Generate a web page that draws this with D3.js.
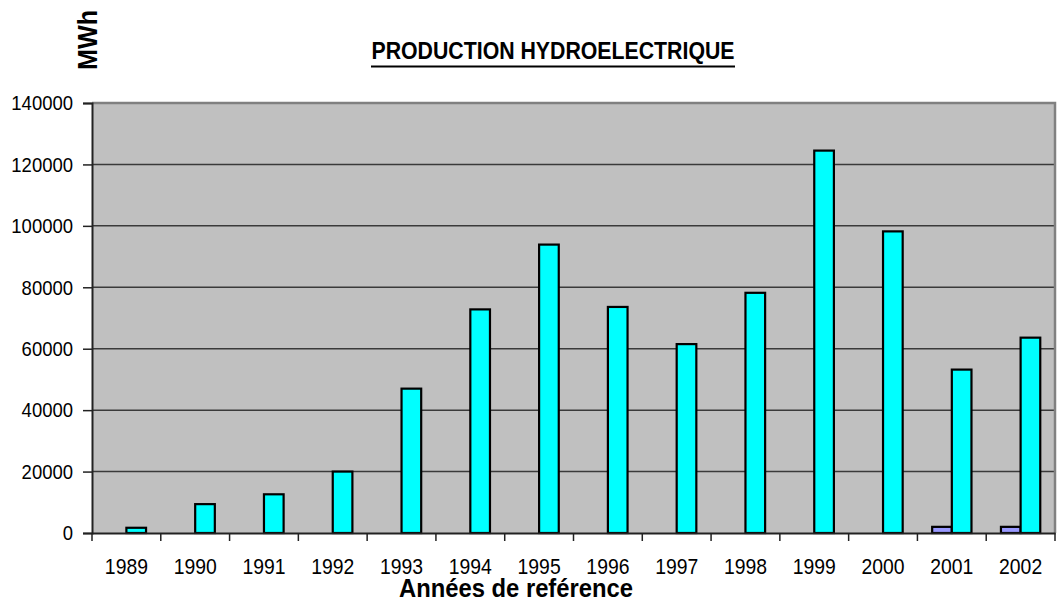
<!DOCTYPE html>
<html>
<head>
<meta charset="utf-8">
<script src="https://cdn.jsdelivr.net/npm/d3@7"></script>
<style>
  html, body { margin: 0; padding: 0; background: #fff; }
  svg { display: block; font-family: "Liberation Sans", Arial, sans-serif; }
</style>
</head>
<body>
<svg id="chart" width="1057" height="607"></svg>
<script>
const years = ["1989","1990","1991","1992","1993","1994","1995","1996","1997","1998","1999","2000","2001","2002"];
const seriesNames = ["Série 1", "Série 2"];
const series1 = [null,null,null,null,null,null,null,null,null,null,null,null,2000,2000];
const series2 = [1700,9400,12600,20000,47000,72800,93900,73600,61500,78200,124500,98200,53200,63600];
const yTicks = [0,20000,40000,60000,80000,100000,120000,140000];
const seriesColors = ["#9999FF", "#00FFFF"];

const svg = d3.select("#chart");
const pLeft = 92, pRight = 1055, pTop = 103, pBottom = 533;

const x = d3.scaleBand().domain(years).range([pLeft, pRight]).padding(0);
const xs = d3.scaleBand().domain(seriesNames).range([0, x.bandwidth()]).paddingInner(0).paddingOuter(0.75);
const y = d3.scaleLinear().domain([0, 140000]).range([pBottom, pTop]);

function condense(sel, f) {
  sel.each(function() {
    const w = this.getComputedTextLength();
    d3.select(this).attr("textLength", w * f).attr("lengthAdjust", "spacingAndGlyphs");
  });
}

svg.append("rect").attr("x", pLeft).attr("y", pTop).attr("width", pRight - pLeft).attr("height", pBottom - pTop)
  .attr("fill", "#C0C0C0");

svg.append("g").selectAll("line").data(yTicks.filter(d => d > 0 && d < 140000)).join("line")
  .attr("x1", pLeft).attr("x2", pRight).attr("y1", d => y(d)).attr("y2", d => y(d))
  .attr("stroke", "#3a3a3a").attr("stroke-width", 1.5);

svg.append("path").attr("d", `M${pLeft},${pTop}H${pRight}V${pBottom}`).attr("fill", "none")
  .attr("stroke", "#808080").attr("stroke-width", 2.5);

const data = [];
years.forEach((yr, i) => {
  [series1, series2].forEach((s, j) => {
    if (s[i] != null) data.push({ year: yr, series: seriesNames[j], value: s[i], color: seriesColors[j] });
  });
});
svg.append("g").selectAll("rect").data(data).join("rect")
  .attr("x", d => x(d.year) + xs(d.series))
  .attr("width", xs.bandwidth())
  .attr("y", d => y(d.value))
  .attr("height", d => y(0) - y(d.value))
  .attr("fill", d => d.color)
  .attr("stroke", "#000").attr("stroke-width", 2.2);

const yAxis = svg.append("g").attr("transform", `translate(${pLeft},0)`)
  .call(d3.axisLeft(y).tickValues(yTicks).tickFormat(d3.format("d")).tickSize(9).tickPadding(10));
yAxis.select(".domain").attr("stroke", "#222").attr("stroke-width", 2);
yAxis.selectAll(".tick line").attr("stroke", "#222").attr("stroke-width", 1.5);
yAxis.selectAll(".tick text").attr("font-size", 21).attr("fill", "#000")
  .attr("font-family", "Liberation Sans, Arial, sans-serif");
condense(yAxis.selectAll(".tick text"), 0.88);

const xAxis = svg.append("g").attr("transform", `translate(0,${pBottom})`)
  .call(d3.axisBottom(x).tickSize(0).tickPadding(25));
xAxis.select(".domain").attr("stroke", "#222").attr("stroke-width", 2);
xAxis.selectAll(".tick text").attr("font-size", 22).attr("fill", "#000")
  .attr("font-family", "Liberation Sans, Arial, sans-serif");
condense(xAxis.selectAll(".tick text"), 0.88);
svg.append("g").selectAll("line").data(years.concat(["__end"])).join("line")
  .attr("x1", (d, i) => i < years.length ? x(d) : pRight)
  .attr("x2", (d, i) => i < years.length ? x(d) : pRight)
  .attr("y1", pBottom).attr("y2", pBottom + 8)
  .attr("stroke", "#222").attr("stroke-width", 1.5);

const title = svg.append("text").attr("x", 553).attr("y", 59).attr("text-anchor", "middle")
  .attr("font-size", 23).attr("font-weight", "bold").attr("fill", "#000")
  .text("PRODUCTION HYDROELECTRIQUE");
title.attr("textLength", 363).attr("lengthAdjust", "spacingAndGlyphs");
svg.append("line").attr("x1", 371).attr("x2", 735).attr("y1", 66.5).attr("y2", 66.5)
  .attr("stroke", "#000").attr("stroke-width", 2);

svg.append("text").attr("transform", "translate(97,40) rotate(-90)").attr("text-anchor", "middle")
  .attr("font-size", 28).attr("font-weight", "bold").attr("fill", "#000")
  .attr("textLength", 60).attr("lengthAdjust", "spacingAndGlyphs")
  .text("MWh");

svg.append("text").attr("x", 516).attr("y", 597).attr("text-anchor", "middle")
  .attr("font-size", 26).attr("font-weight", "bold").attr("fill", "#000")
  .attr("textLength", 234).attr("lengthAdjust", "spacingAndGlyphs")
  .text("Années de reférence");
</script>
</body>
</html>
